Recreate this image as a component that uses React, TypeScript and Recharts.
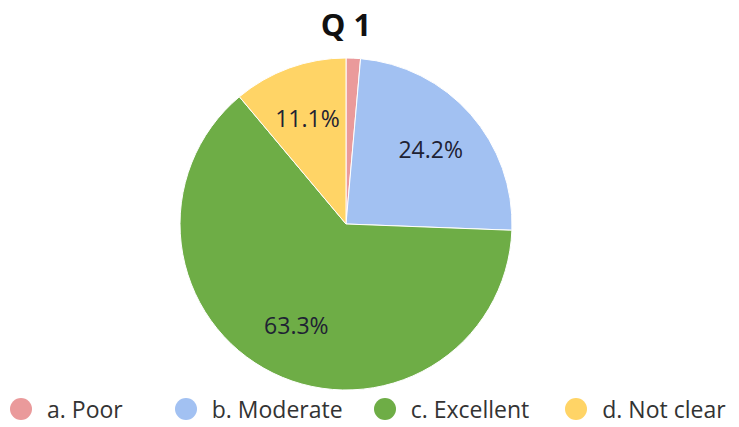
import { PieChart, Pie, Cell, Legend } from 'recharts'

const categories = ['a. Poor', 'b. Moderate', 'c. Excellent', 'd. Not clear']
const shares = [1.4, 24.2, 63.3, 11.1]
const shownLabels = ['', '24.2%', '63.3%', '11.1%']
const colors = ['#EA9A9B', '#A2C1F2', '#6EAD46', '#FFD466']

const data = categories.map((name, i) => ({ name, value: shares[i], label: shownLabels[i] }))

const RAD = Math.PI / 180
const FONT = '"Open Sans", "Liberation Sans", sans-serif'
// spacing after each legend entry, tuned to the reference
const legendGaps = [52, 31, 36, 0]

function SliceLabel(props: any) {
  const { cx, cy, midAngle, outerRadius, index } = props
  const text = data[index].label
  if (!text) return null
  const r = outerRadius * 0.68
  const x = cx + r * Math.cos(-midAngle * RAD)
  const y = cy + r * Math.sin(-midAngle * RAD)
  return (
    <text
      x={x}
      y={y}
      textAnchor="middle"
      dominantBaseline="central"
      fill="#1e2233"
      style={{ fontFamily: FONT, fontSize: 23 }}
    >
      {text}
    </text>
  )
}

function LegendRow() {
  return (
    <div
      style={{
        display: 'flex',
        alignItems: 'center',
        fontFamily: FONT,
        fontSize: 23,
        color: '#333',
        paddingLeft: 10,
        whiteSpace: 'nowrap',
      }}
    >
      {data.map((d, i) => (
        <div key={d.name} style={{ display: 'flex', alignItems: 'center', marginRight: legendGaps[i] }}>
          <span
            style={{
              width: 22,
              height: 22,
              borderRadius: '50%',
              background: colors[i],
              display: 'inline-block',
              marginRight: 15,
            }}
          />
          <span>{d.name}</span>
        </div>
      ))}
    </div>
  )
}

export default function App() {
  return (
    <div style={{ position: 'absolute', left: 0, top: 0, width: 739, height: 427, background: '#fff' }}>
      <div
        style={{
          position: 'absolute',
          left: 0,
          width: 692,
          top: 4,
          textAlign: 'center',
          fontFamily: FONT,
          fontWeight: 700,
          fontSize: 31,
          color: '#111',
          lineHeight: '40px',
        }}
      >
        Q 1
      </div>
      <PieChart width={739} height={427} margin={{ top: 0, right: 0, bottom: 0, left: 0 }}>
        <Pie
          data={data}
          dataKey="value"
          nameKey="name"
          cx={346}
          cy={224}
          outerRadius={166}
          startAngle={90}
          endAngle={-270}
          stroke="#fff"
          strokeWidth={1}
          label={SliceLabel}
          labelLine={false}
          isAnimationActive={false}
        >
          {data.map((d, i) => (
            <Cell key={d.name} fill={colors[i]} />
          ))}
        </Pie>
        <Legend
          verticalAlign="bottom"
          align="left"
          content={() => <LegendRow />}
          wrapperStyle={{ left: 0, bottom: 2, width: 739 }}
        />
      </PieChart>
    </div>
  )
}
